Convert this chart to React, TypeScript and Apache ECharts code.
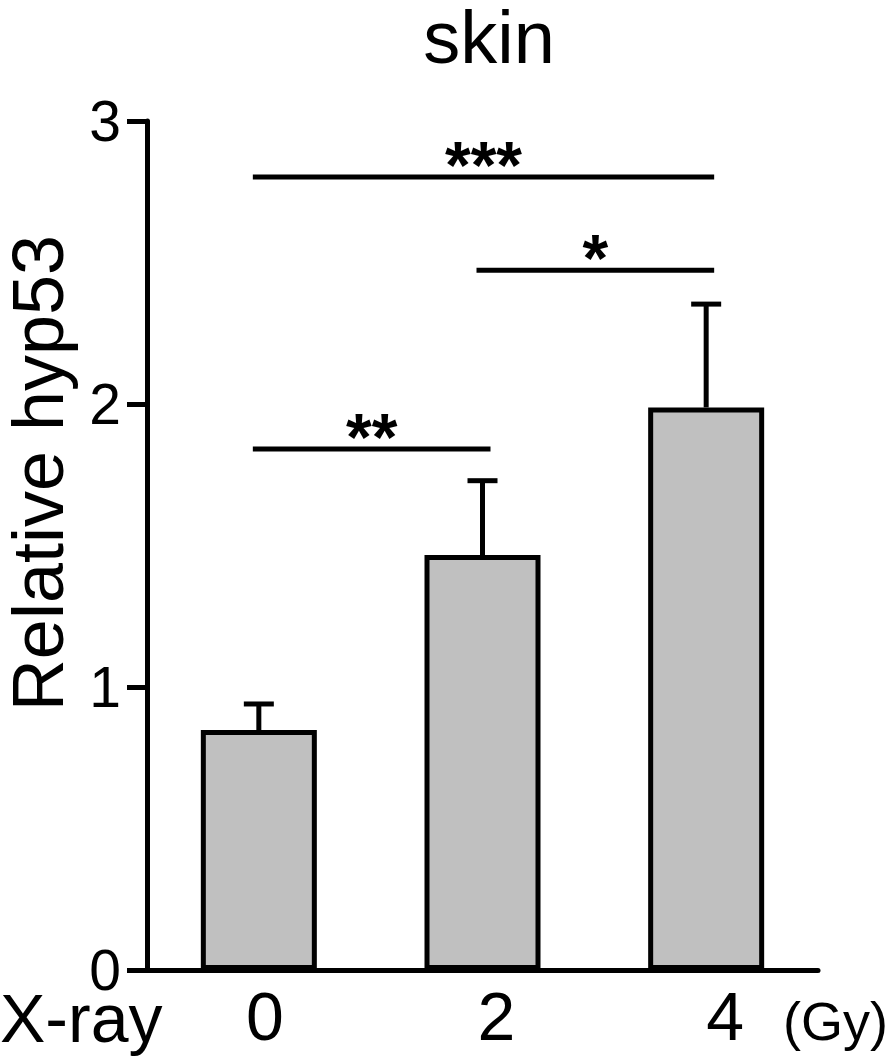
import React, { useEffect, useRef } from "react";
import * as echarts from "echarts";

const categories = ["0", "2", "4"];
const means = [0.848, 1.466, 1.988];
const errors = [0.092, 0.263, 0.365];
// significance brackets: [startIndex, endIndex, y value, label]
const sigStart = [0, 1, 0];
const sigEnd = [2, 2, 1];
const sigY = [2.802, 2.473, 1.841];
const sigLabel = ["***", "*", "**"];
const yTicks = [0, 1, 2, 3];

const FONT = "'Liberation Sans', Arial, Helvetica, sans-serif";

export default function App() {
  const ref = useRef<HTMLDivElement>(null);
  useEffect(() => {
    if (!ref.current) return;
    const chart = echarts.init(ref.current, null, { renderer: "svg" });
    const errData = categories.map((_, i) => [i, means[i], errors[i]]);
    const sigData = sigLabel.map((l, i) => [sigStart[i], sigEnd[i], sigY[i], l]);
    chart.setOption({
      animation: false,
      backgroundColor: "#ffffff",
      grid: { left: 147, right: 76, top: 121, bottom: 90, containLabel: false },
      graphic: [
        {
          type: "text",
          x: 489,
          y: 37,
          style: { text: "skin", fontSize: 74, fontFamily: FONT, fill: "#000", align: "center", verticalAlign: "middle" },
        },
        {
          type: "text",
          x: 38,
          y: 473,
          rotation: Math.PI / 2,
          style: { text: "Relative hyp53", fontSize: 72, fontFamily: FONT, fill: "#000", align: "center", verticalAlign: "middle" },
        },
        {
          type: "text",
          x: 0,
          y: 1018,
          style: { text: "X-ray", fontSize: 68, fontFamily: FONT, fill: "#000", align: "left", verticalAlign: "middle" },
        },
        {
          type: "text",
          x: 783,
          y: 1021,
          style: { text: "(Gy)", fontSize: 54, fontFamily: FONT, fill: "#000", align: "left", verticalAlign: "middle" },
        },
      ],
      xAxis: {
        type: "category",
        data: categories,
        axisLine: { show: true, lineStyle: { color: "#000", width: 5 } },
        axisTick: { show: false },
        axisLabel: {
          interval: 0,
          hideOverlap: false,
          margin: 12,
          fontSize: 68,
          fontFamily: FONT,
          color: "#000",
          formatter: (v: string, i: number) => `{c${i}|${v}}`,
          rich: {
            c0: { fontSize: 68, fontFamily: FONT, color: "#000", padding: [0, 0, 0, 12] },
            c1: { fontSize: 68, fontFamily: FONT, color: "#000", padding: [0, 0, 0, 28] },
            c2: { fontSize: 68, fontFamily: FONT, color: "#000", padding: [0, 0, 0, 38] },
          },
        },
        splitLine: { show: false },
      },
      yAxis: {
        type: "value",
        min: yTicks[0],
        max: yTicks[yTicks.length - 1],
        interval: 1,
        axisLine: { show: true, lineStyle: { color: "#000", width: 5 } },
        axisTick: { show: true, inside: false, length: 20, lineStyle: { color: "#000", width: 5 } },
        axisLabel: { margin: 26, fontSize: 57, fontFamily: FONT, color: "#000" },
        splitLine: { show: false },
      },
      series: [
        {
          type: "bar",
          data: means,
          barWidth: 116,
          itemStyle: { color: "#c0c0c0", borderColor: "#000", borderWidth: 5 },
          z: 2,
        },
        {
          type: "custom",
          data: errData,
          encode: { x: 0, y: 1 },
          z: 3,
          renderItem: (params: any, api: any) => {
            const i = api.value(0);
            const m = api.value(1);
            const e = api.value(2);
            const base = api.coord([i, m]);
            const top = api.coord([i, m + e]);
            const half = 15;
            const st = { stroke: "#000", lineWidth: 5 };
            return {
              type: "group",
              children: [
                { type: "line", shape: { x1: base[0], y1: base[1], x2: top[0], y2: top[1] }, style: st },
                { type: "line", shape: { x1: top[0] - half, y1: top[1], x2: top[0] + half, y2: top[1] }, style: st },
              ],
            };
          },
        },
        {
          type: "custom",
          data: sigData,
          encode: { x: 0, y: 2 },
          z: 4,
          renderItem: (params: any, api: any) => {
            const s = api.value(0);
            const e = api.value(1);
            const y = api.value(2);
            const label = sigLabel[params.dataIndex];
            const p1 = api.coord([s, y]);
            const p2 = api.coord([e, y]);
            const x1 = p1[0] - 6;
            const x2 = p2[0] + 8;
            return {
              type: "group",
              children: [
                { type: "line", shape: { x1, y1: p1[1], x2, y2: p1[1] }, style: { stroke: "#000", lineWidth: 5 } },
                {
                  type: "text",
                  style: {
                    text: label,
                    x: (x1 + x2) / 2,
                    y: p1[1] - 12,
                    fontSize: 66,
                    fontWeight: "bold",
                    fontFamily: FONT,
                    fill: "#000",
                    align: "center",
                    verticalAlign: "middle",
                  },
                },
              ],
            };
          },
        },
      ],
    });
    return () => chart.dispose();
  }, []);
  return <div ref={ref} style={{ position: "fixed", left: 0, top: 0, width: 894, height: 1060 }} />;
}
